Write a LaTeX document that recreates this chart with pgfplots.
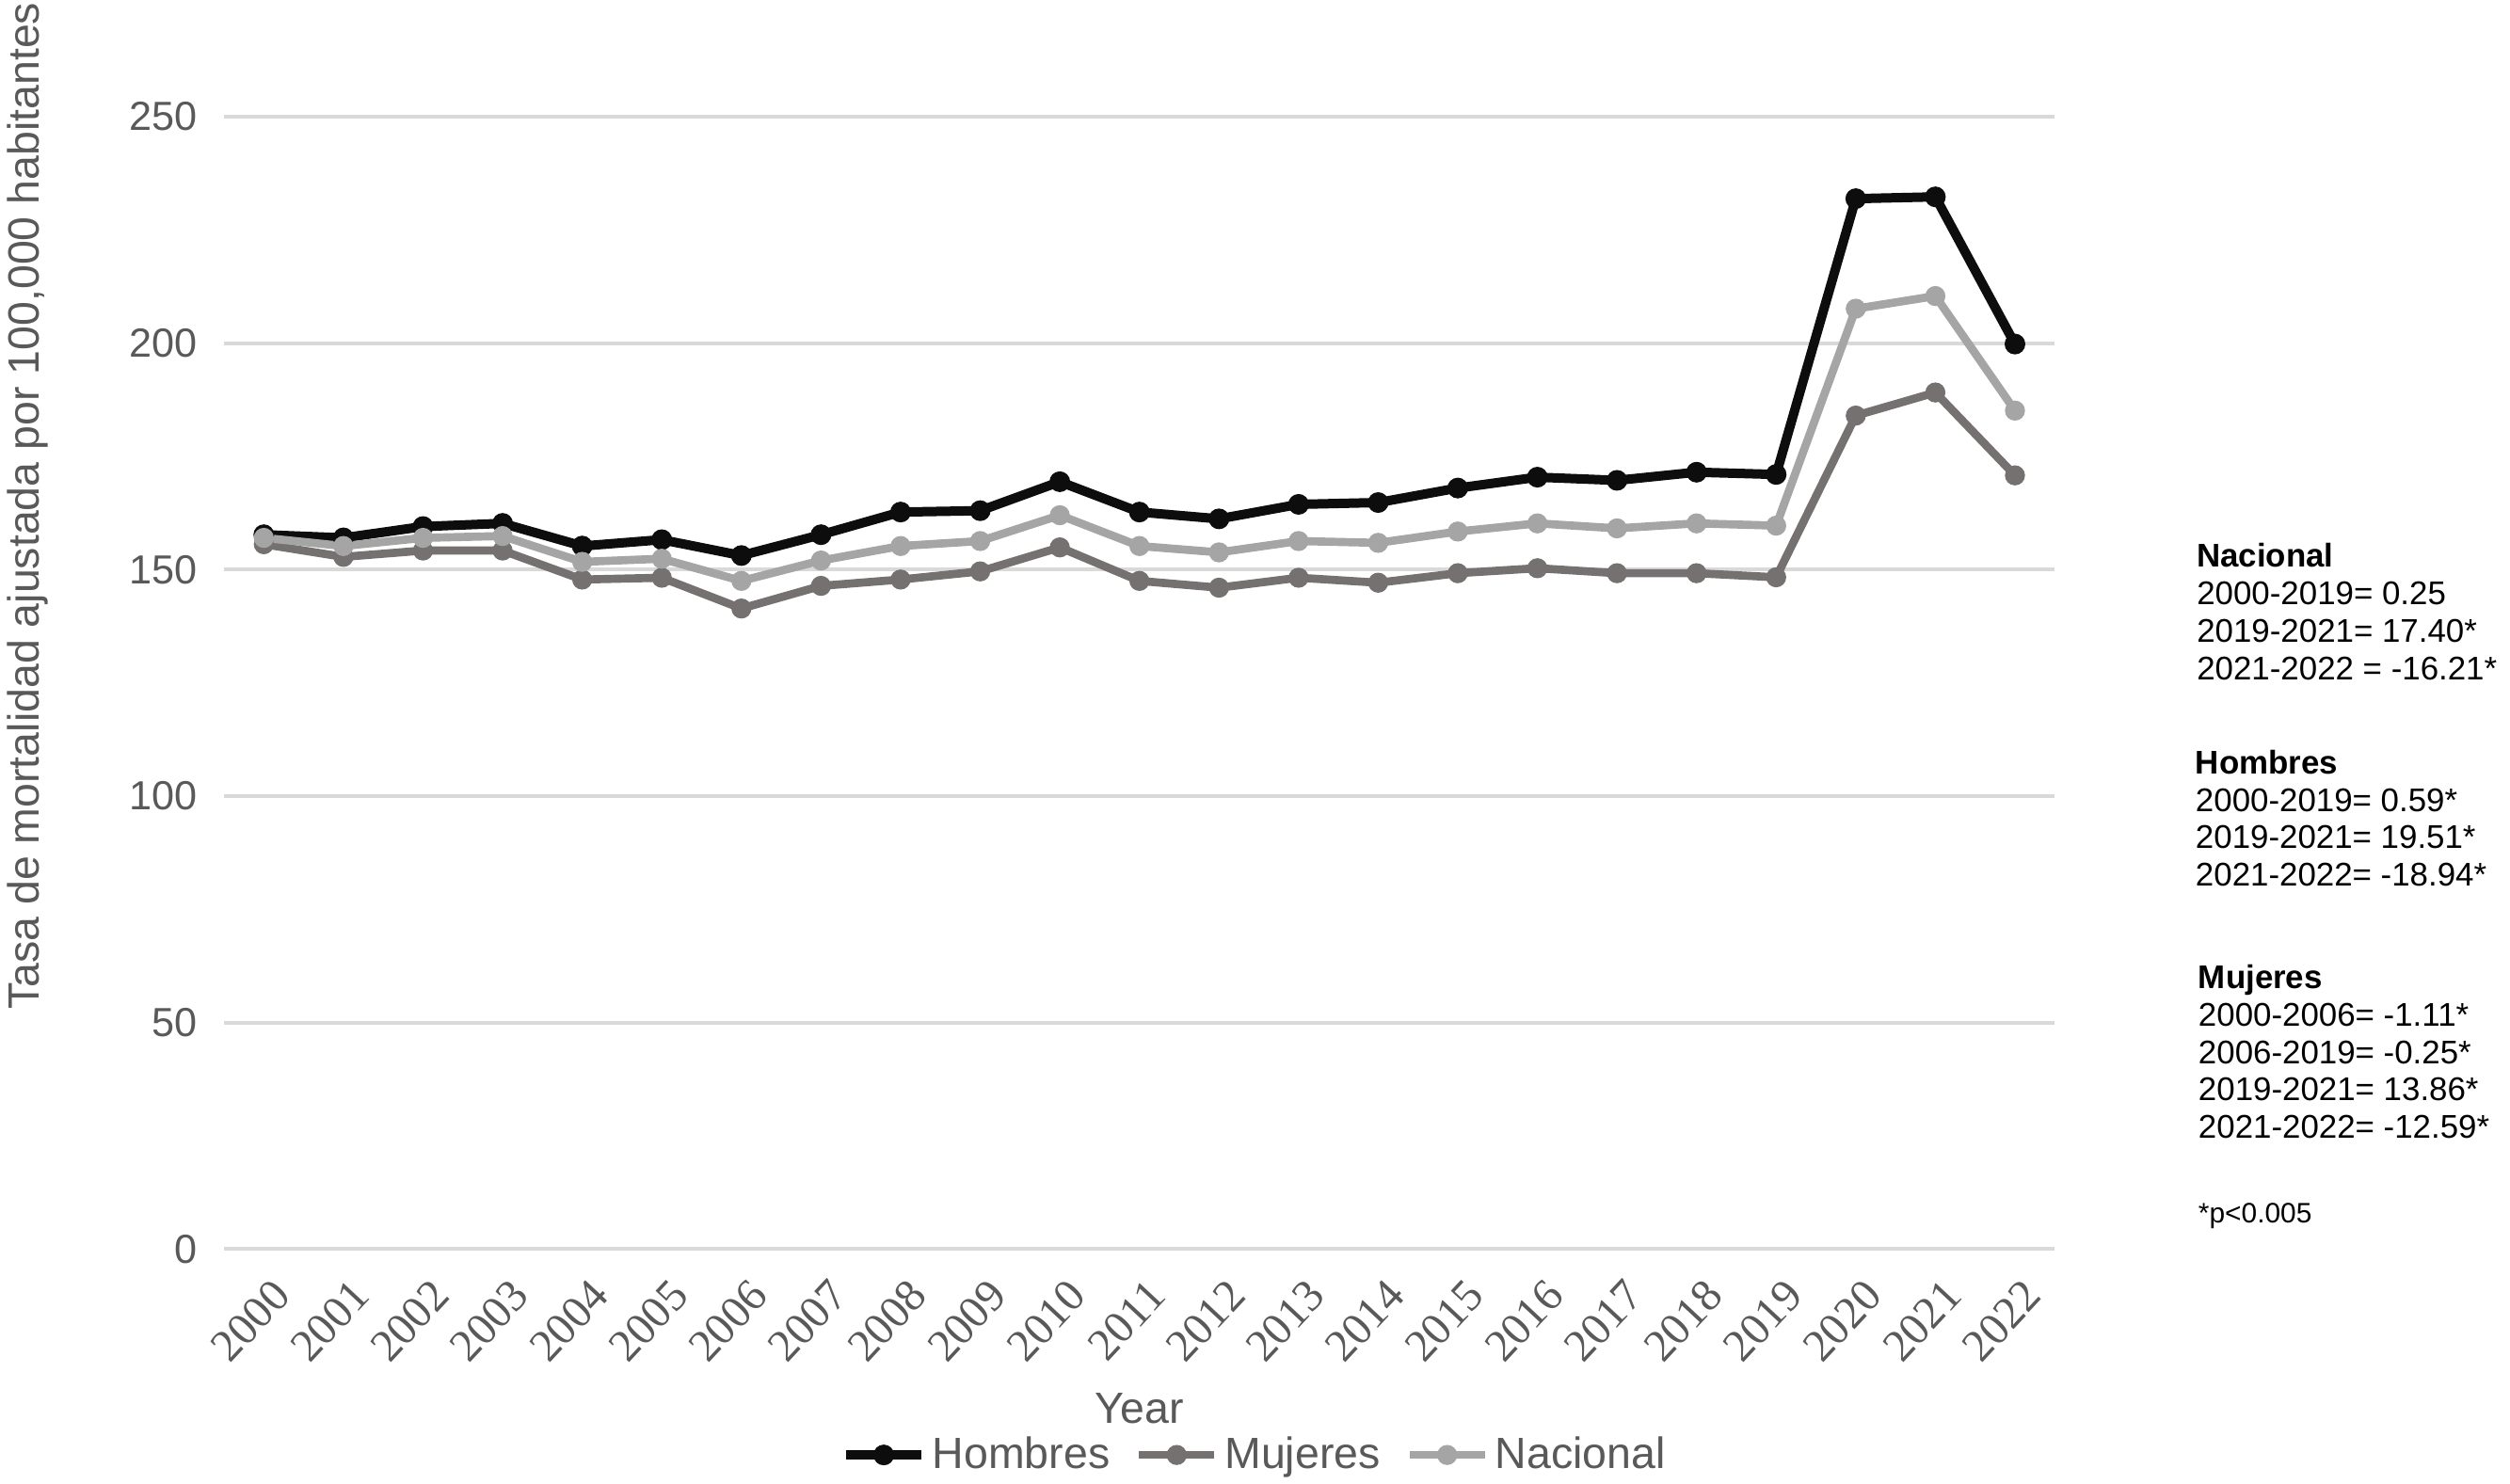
\documentclass[border=0pt]{standalone}
\usepackage{fontspec}
\setmainfont{Liberation Sans}
\newfontfamily\seriffont{Liberation Serif}
\usepackage{pgfplots}
\usepackage{pgfplotstable}
\pgfplotsset{compat=1.18}
\definecolor{hom}{HTML}{0D0D0D}
\definecolor{muj}{HTML}{767171}
\definecolor{nac}{HTML}{A5A5A5}
\definecolor{gridc}{HTML}{D9D9D9}
\definecolor{tlab}{HTML}{595959}

\pgfplotstableread{
x year hom muj nac
0 2000 157.7 155.6 157.0
1 2001 157.0 152.8 155.2
2 2002 159.5 154.2 157.0
3 2003 160.2 154.2 157.4
4 2004 155.2 147.8 151.7
5 2005 156.6 148.2 152.4
6 2006 153.1 141.4 147.5
7 2007 157.7 146.4 152.0
8 2008 162.7 147.8 155.2
9 2009 163.0 149.6 156.3
10 2010 169.4 154.9 162.0
11 2011 162.7 147.5 155.2
12 2012 161.2 146.0 153.8
13 2013 164.4 148.2 156.3
14 2014 164.8 147.1 155.9
15 2015 168.0 149.2 158.4
16 2016 170.4 150.3 160.2
17 2017 169.7 149.2 159.1
18 2018 171.5 149.2 160.2
19 2019 171.0 148.3 159.7
20 2020 231.9 184.0 207.6
21 2021 232.3 189.1 210.4
22 2022 199.8 170.8 185.1
}\datatable

\begin{document}
\begin{tikzpicture}
\useasboundingbox (0,0) rectangle (800bp,472.8bp);
\begin{axis}[
  at={(71.4bp,74.7bp)}, anchor=south west,
  scale only axis, width=583.5bp, height=360.9bp,
  xmin=-0.5, xmax=22.5, ymin=0, ymax=250,
  ytick={0,50,...,250},
  xtick={0,...,22},
  xticklabels={2000,2001,2002,2003,2004,2005,2006,2007,2008,2009,2010,2011,2012,2013,2014,2015,2016,2017,2018,2019,2020,2021,2022},
  ymajorgrids, grid style={color=gridc, line width=1.2bp},
  axis line style={draw=none},
  tick style={draw=none}, major tick length=0pt,
  /pgf/number format/assume math mode=true,
  yticklabel style={font=\fontsize{13}{13}\selectfont, color=tlab, xshift=-5bp},
  xticklabel style={font=\seriffont\fontsize{14.5}{14.5}\selectfont, color=tlab, rotate=47, anchor=north east, inner sep=0pt, xshift=3bp},
  xticklabel shift=11bp,
  xlabel={Year},
  xlabel style={at={(axis description cs:0.5,-0.141)}, anchor=center, font=\fontsize{14}{14}\selectfont, color=tlab},
  legend style={at={(axis description cs:0.564,-0.182)}, anchor=center, draw=none, fill=none, font=\fontsize{14}{14}\selectfont, text=tlab, legend columns=3, /tikz/every even column/.append style={column sep=6bp}, inner sep=0pt},
  legend image code/.code={\draw[#1] (0bp,0bp) -- (24bp,0bp); \draw[#1, mark repeat=1] plot coordinates {(12bp,0bp)};},
  clip=false,
]
\addplot[hom, line width=3bp, mark=*, mark size=3.1bp, mark options={solid, line width=0.4bp}] table[x=x, y=hom] {\datatable};
\addlegendentry{Hombres}
\addplot[muj, line width=2.6bp, mark=*, mark size=3bp, mark options={solid, line width=0.4bp}] table[x=x, y=muj] {\datatable};
\addlegendentry{Mujeres}
\addplot[nac, line width=2.6bp, mark=*, mark size=3bp, mark options={solid, line width=0.4bp}] table[x=x, y=nac] {\datatable};
\addlegendentry{Nacional}
\end{axis}
\node[rotate=90, font=\fontsize{14}{14}\selectfont, color=tlab, inner sep=0pt] at (8.7bp,311.5bp) {Tasa de mortalidad ajustada por 100,000 habitantes};
\node[anchor=base west, align=left, inner sep=0pt, font=\fontsize{10.5}{12}\selectfont] at (700bp,256.2bp) {\textbf{Nacional}\\2000-2019= 0.25\\2019-2021= 17.40*\\2021-2022 = -16.21*};
\node[anchor=base west, align=left, inner sep=0pt, font=\fontsize{10.5}{12}\selectfont] at (699.6bp,190.3bp) {\textbf{Hombres}\\2000-2019= 0.59*\\2019-2021= 19.51*\\2021-2022= -18.94*};
\node[anchor=base west, align=left, inner sep=0pt, font=\fontsize{10.5}{12}\selectfont] at (700.5bp,109.9bp) {\textbf{Mujeres}\\2000-2006= -1.11*\\2006-2019= -0.25*\\2019-2021= 13.86*\\2021-2022= -12.59*};
\node[anchor=base west, inner sep=0pt, font=\fontsize{9}{10}\selectfont] at (700.5bp,82.9bp) {*p<0.005};
\end{tikzpicture}
\end{document}
